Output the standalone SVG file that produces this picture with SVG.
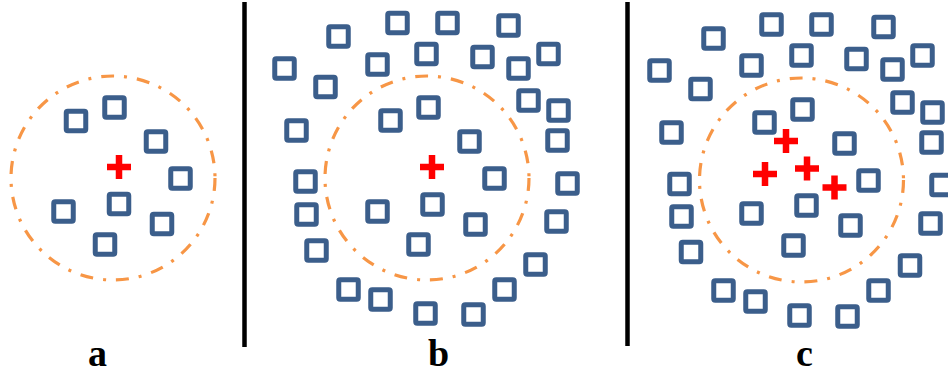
<svg xmlns="http://www.w3.org/2000/svg" xmlns:xlink="http://www.w3.org/1999/xlink" width="948" height="375" viewBox="0 0 948 375">
<style>
.sq{fill:none;stroke:#3B5E8B;stroke-width:5}
.cr{fill:none;stroke:#FF0000;stroke-width:6.5}
.ring{fill:none;stroke:#F79646;stroke-width:3.2;stroke-dasharray:13 10 3 10}
.sep{stroke:#000;stroke-width:4.5}
.lbl{font-family:"Liberation Serif","Times New Roman",serif;font-weight:bold;font-size:38px;fill:#000;text-anchor:middle}
</style>
<defs>
<rect id="sq" class="sq" x="-9.75" y="-9.75" width="19.5" height="19.5" rx="1.5"/>
<path id="cr" class="cr" d="M-12,0H12M0,-12V12"/>
</defs>
<g id="connectors">
<line class="sep" x1="244.5" y1="2" x2="244.5" y2="347"/>
<line class="sep" x1="627.5" y1="2" x2="627.5" y2="346"/>
</g>
<g id="panel-a">
<circle id="a-ring" class="ring" cx="113" cy="178" r="102"/>
<g id="a-s1"><use href="#sq" x="76" y="121"/></g>
<g id="a-s2"><use href="#sq" x="114.5" y="107.5"/></g>
<g id="a-s3"><use href="#sq" x="156" y="141.5"/></g>
<g id="a-s4"><use href="#sq" x="180.5" y="178.5"/></g>
<g id="a-s5"><use href="#sq" x="119" y="204"/></g>
<g id="a-s6"><use href="#sq" x="63.5" y="211.5"/></g>
<g id="a-s7"><use href="#sq" x="162" y="224"/></g>
<g id="a-s8"><use href="#sq" x="105" y="244.5"/></g>
<g id="a-c1"><use href="#cr" x="119" y="167"/></g>
<text class="lbl" x="97.5" y="366">a</text>
</g>
<g id="panel-b">
<circle id="b-ring" class="ring" cx="427" cy="178" r="102"/>
<g id="b-s1"><use href="#sq" x="397.5" y="23"/></g>
<g id="b-s2"><use href="#sq" x="447.5" y="23"/></g>
<g id="b-s3"><use href="#sq" x="508.5" y="25.5"/></g>
<g id="b-s4"><use href="#sq" x="338.5" y="36.5"/></g>
<g id="b-s5"><use href="#sq" x="426.5" y="54"/></g>
<g id="b-s6"><use href="#sq" x="482.5" y="57"/></g>
<g id="b-s7"><use href="#sq" x="548.5" y="54"/></g>
<g id="b-s8"><use href="#sq" x="377.5" y="64.5"/></g>
<g id="b-s9"><use href="#sq" x="284.5" y="68.5"/></g>
<g id="b-s10"><use href="#sq" x="518.5" y="68.5"/></g>
<g id="b-s11"><use href="#sq" x="325.5" y="87"/></g>
<g id="b-s12"><use href="#sq" x="528.5" y="100.5"/></g>
<g id="b-s13"><use href="#sq" x="428.5" y="107.5"/></g>
<g id="b-s14"><use href="#sq" x="558.5" y="110.5"/></g>
<g id="b-s15"><use href="#sq" x="390.5" y="120.5"/></g>
<g id="b-s16"><use href="#sq" x="296.5" y="130.5"/></g>
<g id="b-s17"><use href="#sq" x="469.5" y="141.5"/></g>
<g id="b-s18"><use href="#sq" x="557.5" y="140.5"/></g>
<g id="b-s19"><use href="#sq" x="494.5" y="178.5"/></g>
<g id="b-s20"><use href="#sq" x="305.5" y="181.5"/></g>
<g id="b-s21"><use href="#sq" x="567.5" y="183.5"/></g>
<g id="b-s22"><use href="#sq" x="306.5" y="214.5"/></g>
<g id="b-s23"><use href="#sq" x="377.5" y="211.5"/></g>
<g id="b-s24"><use href="#sq" x="432.5" y="204.5"/></g>
<g id="b-s25"><use href="#sq" x="556.5" y="221.5"/></g>
<g id="b-s26"><use href="#sq" x="475.5" y="224.5"/></g>
<g id="b-s27"><use href="#sq" x="316.5" y="250.5"/></g>
<g id="b-s28"><use href="#sq" x="418.5" y="244.5"/></g>
<g id="b-s29"><use href="#sq" x="535.5" y="264.5"/></g>
<g id="b-s30"><use href="#sq" x="348.5" y="289.5"/></g>
<g id="b-s31"><use href="#sq" x="504.5" y="289.5"/></g>
<g id="b-s32"><use href="#sq" x="380.5" y="299.5"/></g>
<g id="b-s33"><use href="#sq" x="425.5" y="313.5"/></g>
<g id="b-s34"><use href="#sq" x="473.5" y="314.5"/></g>
<g id="b-c1"><use href="#cr" x="432" y="167"/></g>
<text class="lbl" x="438.5" y="366">b</text>
</g>
<g id="panel-c">
<circle id="c-ring" class="ring" cx="801.5" cy="180" r="102"/>
<g id="c-s1"><use href="#sq" x="771.5" y="24.5"/></g>
<g id="c-s2"><use href="#sq" x="821.5" y="24.5"/></g>
<g id="c-s3"><use href="#sq" x="883.5" y="27"/></g>
<g id="c-s4"><use href="#sq" x="713.5" y="38.5"/></g>
<g id="c-s5"><use href="#sq" x="801.5" y="55.5"/></g>
<g id="c-s6"><use href="#sq" x="856.5" y="59"/></g>
<g id="c-s7"><use href="#sq" x="922.5" y="55.5"/></g>
<g id="c-s8"><use href="#sq" x="751.5" y="65.5"/></g>
<g id="c-s9"><use href="#sq" x="659.5" y="70.5"/></g>
<g id="c-s10"><use href="#sq" x="892.5" y="69.5"/></g>
<g id="c-s11"><use href="#sq" x="700.5" y="89"/></g>
<g id="c-s12"><use href="#sq" x="902.5" y="102.5"/></g>
<g id="c-s13"><use href="#sq" x="802.5" y="109.5"/></g>
<g id="c-s14"><use href="#sq" x="932.5" y="112.5"/></g>
<g id="c-s15"><use href="#sq" x="764.5" y="122.5"/></g>
<g id="c-s16"><use href="#sq" x="671.5" y="132.5"/></g>
<g id="c-s17"><use href="#sq" x="844.5" y="143.5"/></g>
<g id="c-s18"><use href="#sq" x="931.5" y="142.5"/></g>
<g id="c-s19"><use href="#sq" x="868.5" y="180.5"/></g>
<g id="c-s20"><use href="#sq" x="679.5" y="184"/></g>
<g id="c-s21"><use href="#sq" x="941.5" y="185"/></g>
<g id="c-s22"><use href="#sq" x="681.5" y="216.5"/></g>
<g id="c-s23"><use href="#sq" x="751.5" y="213.5"/></g>
<g id="c-s24"><use href="#sq" x="806.5" y="205.5"/></g>
<g id="c-s25"><use href="#sq" x="930.5" y="223.5"/></g>
<g id="c-s26"><use href="#sq" x="850.5" y="225.5"/></g>
<g id="c-s27"><use href="#sq" x="691" y="252"/></g>
<g id="c-s28"><use href="#sq" x="793.5" y="245.5"/></g>
<g id="c-s29"><use href="#sq" x="910" y="265.5"/></g>
<g id="c-s30"><use href="#sq" x="723.5" y="290.5"/></g>
<g id="c-s31"><use href="#sq" x="878.5" y="290.5"/></g>
<g id="c-s32"><use href="#sq" x="755.5" y="301.5"/></g>
<g id="c-s33"><use href="#sq" x="799.5" y="315.5"/></g>
<g id="c-s34"><use href="#sq" x="847.5" y="316.5"/></g>
<g id="c-c1"><use href="#cr" x="786" y="141"/></g>
<g id="c-c2"><use href="#cr" x="765" y="174"/></g>
<g id="c-c3"><use href="#cr" x="807" y="168.5"/></g>
<g id="c-c4"><use href="#cr" x="834.5" y="187.5"/></g>
<text class="lbl" x="804.5" y="366">c</text>
</g>
</svg>
